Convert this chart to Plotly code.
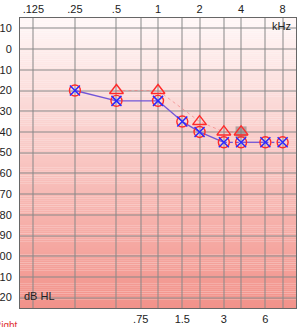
import plotly.graph_objects as go

# ---- data ----
freqs = [250, 500, 1000, 1500, 2000, 3000, 4000, 6000, 8000]
right_ac = [20, 25, 25, 35, 40, 45, 45, 45, 45]
left_ac = [20, 25, 25, 35, 40, 45, 45, 45, 45]
ac_link = ["solid", "solid", "solid", "solid", "solid", "dot", "solid", "dot"]
tri_freqs = [500, 1000, 2000, 3000, 4000]
tri_vals = [20, 20, 35, 40, 40]
flag_freqs = [4000]
flag_vals = [40]

top_ticks = [125, 250, 500, 1000, 2000, 4000, 8000]
top_text = [".125", ".25", ".5", "1", "2", "4", "8"]
bot_ticks = [750, 1500, 3000, 6000]
bot_text = [".75", "1.5", "3", "6"]
y_ticks = list(range(-10, 130, 10))

FONT = "Arial, Liberation Sans, sans-serif"
fig = go.Figure()

# background gradient stripes
top_c = (255, 247, 247)
bot_c = (242, 146, 138)
n = 140
for i in range(n):
    t = i / (n - 1)
    c = tuple(round(top_c[k] + (bot_c[k] - top_c[k]) * t) for k in range(3))
    fig.add_shape(type="rect", xref="paper", yref="y", x0=0, x1=1,
                  y0=-15 + i, y1=-15 + i + 1.05, line_width=0,
                  fillcolor="rgb(%d,%d,%d)" % c, layer="below")

# connecting line for AC
for i in range(len(freqs) - 1):
    fig.add_trace(go.Scatter(x=[freqs[i], freqs[i + 1]], y=[left_ac[i], left_ac[i + 1]],
                             mode="lines", line=dict(color="#7256d8", width=1.3, dash=ac_link[i]),
                             hoverinfo="skip", showlegend=False))
# triangle dotted line
fig.add_trace(go.Scatter(x=tri_freqs, y=tri_vals, mode="lines",
                         line=dict(color="rgba(240,120,120,0.6)", width=1.0, dash="dot"),
                         showlegend=False))
# gray flag square
fig.add_trace(go.Scatter(x=flag_freqs, y=flag_vals, mode="markers",
                         marker=dict(symbol="square", size=11, color="rgba(120,120,120,0.55)"),
                         showlegend=False))
# red circles
fig.add_trace(go.Scatter(x=freqs, y=right_ac, mode="markers",
                         marker=dict(symbol="circle-open", size=11, color="#ff2a2a",
                                     line=dict(width=1.4, color="#ff2a2a")),
                         showlegend=False))
# blue X
fig.add_trace(go.Scatter(x=freqs, y=left_ac, mode="markers",
                         marker=dict(symbol="x-thin-open", size=10, color="#2a2aff",
                                     line=dict(width=1.5, color="#2a2aff")),
                         showlegend=False))
# red triangles
fig.add_trace(go.Scatter(x=tri_freqs, y=tri_vals, mode="markers",
                         marker=dict(symbol="triangle-up-open", size=12, color="#ff2a2a",
                                     line=dict(width=1.4, color="#ff2a2a")),
                         showlegend=False))
# dummy trace on x2 to show bottom axis
fig.add_trace(go.Scatter(x=[bot_ticks[0]], y=[None], xaxis="x2", mode="markers",
                         showlegend=False, hoverinfo="skip"))

grid = "rgba(135,135,135,0.5)"
fig.update_layout(
    width=297, height=327,
    margin=dict(l=20, r=1, t=18, b=19, autoexpand=False),
    paper_bgcolor="white",
    plot_bgcolor="rgba(0,0,0,0)",
    font=dict(family=FONT, size=11, color="#222"),
    xaxis=dict(type="log", range=[2, 4], side="top", tickvals=top_ticks, ticktext=top_text,
               showgrid=True, gridcolor=grid, gridwidth=1.5, ticks="", ticklabelstandoff=0,
               showline=True, linecolor="#666", linewidth=1, mirror=True, zeroline=False,
               automargin=False),
    xaxis2=dict(type="log", range=[2, 4], side="bottom", overlaying="x", tickvals=bot_ticks,
                ticktext=bot_text, showgrid=True, gridcolor=grid, gridwidth=1.5, ticks="",
                ticklabelstandoff=3, zeroline=False, automargin=False),
    yaxis=dict(range=[125, -15], tickvals=y_ticks, showgrid=True, gridcolor=grid, gridwidth=1.5,
               ticks="", ticklabelstandoff=5, zeroline=False, automargin=False,
               showline=True, linecolor="#666", linewidth=1, mirror=True),
    annotations=[
        dict(text="kHz", xref="paper", yref="y", x=0.989, y=-10.9, xanchor="right",
             yanchor="middle", showarrow=False, font=dict(size=11, color="#222")),
        dict(text="dB HL", xref="paper", yref="y", x=0.007, y=119.2, xanchor="left",
             yanchor="middle", showarrow=False, font=dict(size=11, color="#222")),
        dict(text="Right", xref="paper", yref="paper", x=0.0, y=-0.062, xanchor="right",
             yanchor="middle", showarrow=False, font=dict(size=10, color="#e03030")),
    ],
)

fig.write_html("out.html")
